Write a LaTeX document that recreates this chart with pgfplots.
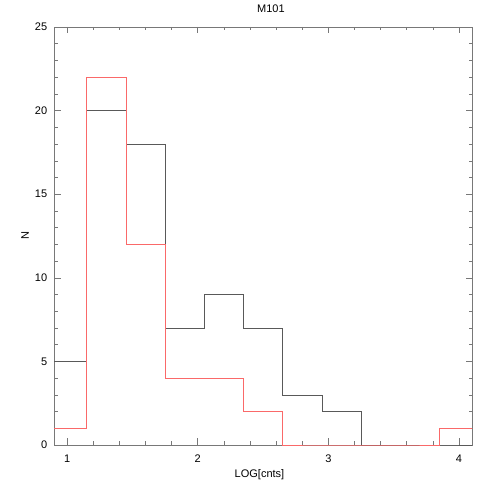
\documentclass[border=0pt]{standalone}
\usepackage{pgfplots}
\pgfplotsset{compat=1.18}
\usepackage{fontspec}
\setmainfont{Liberation Sans}
\definecolor{histred}{RGB}{250,105,105}
\definecolor{axgray}{RGB}{120,120,120}
\begin{document}
\begin{tikzpicture}[x=1pt,y=1pt]
\path[use as bounding box] (0,0) rectangle (498,498);
\begin{axis}[at={(54pt,53pt)}, anchor=south west, scale only axis,
  width=418pt, height=418pt,
  xmin=0.9, xmax=4.1, ymin=0, ymax=25,
  xtick={1,2,3,4}, minor x tick num=4,
  ytick={0,5,10,15,20,25}, minor y tick num=4,
  tick align=inside, tick pos=both,
  major tick length=6.5pt, minor tick length=3.5pt,
  axis line style={axgray, line width=0.5pt},
  every tick/.style={axgray, line width=0.5pt},
  font=\fontsize{11}{13}\selectfont,
  /pgf/number format/assume math mode=true,
  xticklabel style={anchor=center, yshift=-14pt},
  yticklabel style={anchor=east, xshift=-3.3pt},
  title={M101}, xlabel={LOG[cnts]}, ylabel={N},
  title style={at={(axis description cs:0.519,1)}, anchor=center, yshift=12pt},
  xlabel style={at={(axis description cs:0.4916,0)}, anchor=center, yshift=-30pt},
  ylabel style={at={(axis description cs:-0.0694,0.5)}, anchor=center},
]
\addplot[const plot mark left, black!65, line width=0.5pt] coordinates {
(0.85,5)(1.15,20)(1.45,18)(1.75,7)(2.05,9)(2.35,7)(2.65,3)(2.95,2)(3.25,0)(3.55,0)(3.85,0)(4.15,0)};
\addplot[const plot mark left, histred, line width=0.5pt] coordinates {
(0.85,1)(1.15,22)(1.45,12)(1.75,4)(2.05,4)(2.35,2)(2.65,0)(2.95,0)(3.25,0)(3.55,0)(3.85,1)(4.15,1)};
\end{axis}
\end{tikzpicture}
\end{document}
